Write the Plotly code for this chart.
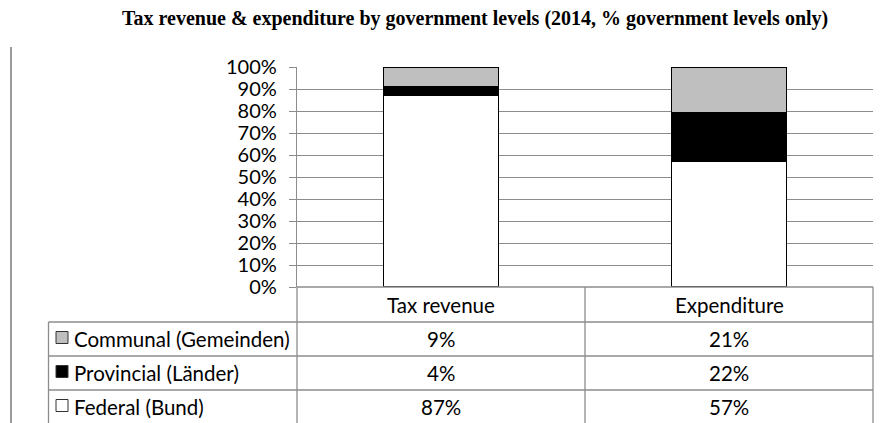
import plotly.graph_objects as go

# ---- data ----
categories = ["Tax revenue", "Expenditure"]
levels = ["Federal (Bund)", "Provincial (Länder)", "Communal (Gemeinden)"]
federal = [87, 57]
provincial = [4, 22]
communal = [9, 21]
level_colors = ["#FFFFFF", "#000000", "#BFBFBF"]
title_text = "Tax revenue &amp; expenditure by government levels (2014, % government levels only)"

W, H = 885, 423
L, R, T, B = 297, 12, 67, 136
PW, PH = W - L - R, H - T - B

def px(x):
    return (x - L) / PW

def py(y):
    return (H - B - y) / PH

FONT = "Lato"
FS = 20.5
GRID = "#8C8C8C"

fig = go.Figure()
series = [federal, provincial, communal]
for name, vals, col in zip(levels, series, level_colors):
    fig.add_trace(go.Bar(
        x=categories, y=[v / 100 for v in vals], name=name,
        marker=dict(color=col, line=dict(color="#000000", width=1.5)),
        width=0.4, showlegend=False, hoverinfo="skip",
    ))

shapes = []
annotations = []

# document margin line on the far left
shapes.append(dict(type="line", xref="paper", yref="paper",
                   x0=px(11), x1=px(11), y0=py(47), y1=py(430),
                   line=dict(color="#9A9A9A", width=2)))

# data table below the plot area
row_edges = [287, 322, 356, 390, 430]
col_edges = [48.5, 297, 585, 873]
tbl_line = dict(color=GRID, width=1.3)
# header row: only value columns are boxed
shapes.append(dict(type="line", xref="paper", yref="paper",
                   x0=px(col_edges[1]), x1=px(col_edges[3]),
                   y0=py(row_edges[0]), y1=py(row_edges[0]), line=tbl_line))
for ry in row_edges[1:]:
    shapes.append(dict(type="line", xref="paper", yref="paper",
                       x0=px(col_edges[0]), x1=px(col_edges[3]),
                       y0=py(ry), y1=py(ry), line=tbl_line))
shapes.append(dict(type="line", xref="paper", yref="paper",
                   x0=px(col_edges[0]), x1=px(col_edges[0]),
                   y0=py(row_edges[1]), y1=py(row_edges[-1]), line=tbl_line))
for cx in col_edges[1:]:
    shapes.append(dict(type="line", xref="paper", yref="paper",
                       x0=px(cx), x1=px(cx),
                       y0=py(row_edges[0]), y1=py(row_edges[-1]), line=tbl_line))

# header labels
for cat in categories:
    annotations.append(dict(xref="x", yref="paper", x=cat,
                            y=py((row_edges[0] + row_edges[1]) / 2),
                            text=cat, showarrow=False, xanchor="center", yanchor="middle",
                            font=dict(family=FONT, size=FS, color="#000000")))

# body rows: top row is the top stack segment
table_rows = list(zip(levels, series, level_colors))[::-1]
for r, (name, vals, col) in enumerate(table_rows):
    ymid = row_edges[r + 1] + 17
    # legend key
    shapes.append(dict(type="rect", xref="paper", yref="paper",
                       x0=px(56), x1=px(68), y0=py(ymid + 4.5), y1=py(ymid - 7.5),
                       fillcolor=col, line=dict(color="#333333", width=1)))
    annotations.append(dict(xref="paper", yref="paper", x=px(72), y=py(ymid),
                            text=name, showarrow=False, xanchor="left", yanchor="middle",
                            font=dict(family=FONT, size=FS, color="#000000")))
    for cat, v in zip(categories, vals):
        annotations.append(dict(xref="x", yref="paper", x=cat, y=py(ymid),
                                text=f"{v}%", showarrow=False, xanchor="center",
                                yanchor="middle",
                                font=dict(family=FONT, size=FS, color="#000000")))

annotations.append(dict(xref="paper", yref="paper", x=px(475), y=py(19),
                        text=f"<b>{title_text}</b>", showarrow=False,
                        xanchor="center", yanchor="middle",
                        font=dict(family="Liberation Serif", size=20, color="#000000")))

fig.update_layout(
    width=W, height=H, margin=dict(l=L, r=R, t=T, b=B, pad=0),
    paper_bgcolor="#FFFFFF", plot_bgcolor="#FFFFFF",
    barmode="stack", bargap=0.6,
    shapes=shapes, annotations=annotations,
    xaxis=dict(range=[-0.5, 1.5], showticklabels=False, ticks="",
               showgrid=False, zeroline=False, showline=False, fixedrange=True),
    yaxis=dict(range=[0, 1], tickvals=[i / 10 for i in range(11)], tickformat=".0%",
               showgrid=True, gridcolor=GRID, gridwidth=1.3,
               ticks="outside", ticklen=7, tickcolor=GRID, tickwidth=1.3,
               showline=True, linecolor=GRID, linewidth=1.3,
               zeroline=False, ticklabelstandoff=8,
               tickfont=dict(family=FONT, size=20, color="#000000"), fixedrange=True),
)

fig.write_html("out.html", config={"displayModeBar": False})
